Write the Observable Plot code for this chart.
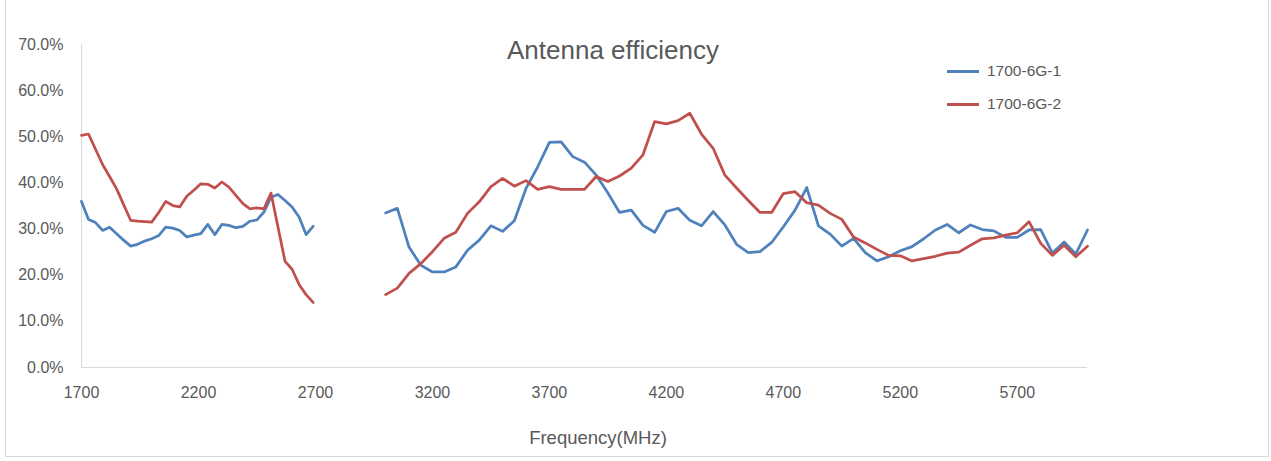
<!DOCTYPE html>
<html>
<head>
<meta charset="utf-8">
<script src="https://cdn.jsdelivr.net/npm/d3@7"></script>
<script src="https://cdn.jsdelivr.net/npm/@observablehq/plot@0.6"></script>
<style>
  body { margin: 0; background: #fff; font-family: "Liberation Sans", Arial, sans-serif; }
  #wrap { position: relative; width: 1271px; height: 461px; overflow: hidden; background: #fff; }
  #frame { position: absolute; left: 5px; top: -3px; width: 1264px; height: 460px; border: 1px solid #d9d9d9; box-sizing: border-box; pointer-events: none; }
  .title { position: absolute; left: 413px; width: 400px; text-align: center; top: 35px; font-size: 26px; color: #595959; }
  .xtitle { position: absolute; left: 448px; width: 300px; text-align: center; top: 427px; font-size: 18.5px; color: #595959; }
  .leg { position: absolute; left: 947px; font-size: 15.5px; color: #595959; display: flex; align-items: center; height: 20px; }
  .leg span.sw { display: inline-block; width: 32px; height: 3px; margin-right: 8px; }
  svg { display: block; }
</style>
</head>
<body>
<div id="wrap">
  <div id="chart"></div>
  <div class="title">Antenna efficiency</div>
  <div class="xtitle">Frequency(MHz)</div>
  <div id="legend"></div>
  <div id="frame"></div>
</div>
<script>
// ---- data ----
const seriesNames = ["1700-6G-1", "1700-6G-2"];
const seriesColors = ["#4F81BD", "#C0504D"];

const freqBand1 = [1700,1730,1760,1790,1820,1850,1880,1910,1940,1970,2000,2030,2060,2090,2120,2150,2180,2210,2240,2270,2300,2330,2360,2390,2420,2450,2480,2510,2540,2570,2600,2630,2660,2690];
const blueBand1 = [36.0,32.1,31.4,29.7,30.4,29.0,27.6,26.3,26.7,27.4,27.9,28.6,30.4,30.2,29.7,28.3,28.7,29.0,31.0,28.8,31.0,30.8,30.3,30.6,31.7,32.0,33.7,36.9,37.5,36.2,34.8,32.6,28.8,30.6];
const redBand1  = [50.3,50.6,47.3,44.0,41.4,38.7,35.3,31.9,31.7,31.6,31.5,33.6,36.0,35.1,34.8,37.1,38.4,39.8,39.7,38.9,40.2,39.1,37.3,35.5,34.4,34.6,34.4,37.8,30.4,23.0,21.3,18.0,15.8,14.1];

const freqBand2 = [3000,3050,3100,3150,3200,3250,3300,3350,3400,3450,3500,3550,3600,3650,3700,3750,3800,3850,3900,3950,4000,4050,4100,4150,4200,4250,4300,4350,4400,4450,4500,4550,4600,4650,4700,4750,4800,4850,4900,4950,5000,5050,5100,5150,5200,5250,5300,5350,5400,5450,5500,5550,5600,5650,5700,5750,5800,5850,5900,5950,6000];
const blueBand2 = [33.5,34.5,26.1,22.2,20.7,20.7,21.8,25.4,27.6,30.7,29.5,31.8,38.8,43.5,48.8,48.9,45.7,44.5,41.7,37.8,33.6,34.1,30.8,29.3,33.8,34.5,31.9,30.7,33.8,30.9,26.7,24.9,25.1,27.1,30.5,34.1,39.0,30.7,28.9,26.3,28.0,24.9,23.1,24.0,25.3,26.2,27.9,29.8,31.0,29.2,30.9,29.9,29.6,28.2,28.2,29.8,29.9,24.8,27.2,24.6,29.8];
const redBand2  = [15.8,17.2,20.4,22.5,25.1,28.0,29.3,33.4,35.9,39.2,41.0,39.3,40.5,38.6,39.2,38.6,38.6,38.6,41.4,40.3,41.5,43.2,46.1,53.3,52.8,53.5,55.1,50.6,47.5,41.7,38.9,36.2,33.6,33.6,37.7,38.1,35.7,35.2,33.4,32.1,28.3,27.0,25.6,24.3,24.2,23.1,23.6,24.1,24.8,25.0,26.5,27.9,28.1,28.7,29.2,31.6,26.9,24.3,26.5,24.0,26.3];

const xTicks = [1700,2200,2700,3200,3700,4200,4700,5200,5700];
const yTicks = [0,10,20,30,40,50,60,70];

// ---- build table ----
const rows = [];
function add(series, band, freqs, vals) {
  freqs.forEach((f, i) => rows.push({series, key: series + "|" + band, freq: f, value: vals[i]}));
}
add(seriesNames[0], "b1", freqBand1, blueBand1);
add(seriesNames[0], "b2", freqBand2, blueBand2);
add(seriesNames[1], "b1", freqBand1, redBand1);
add(seriesNames[1], "b2", freqBand2, redBand2);

const chart = Plot.plot({
  width: 1271,
  height: 461,
  marginLeft: 81,
  marginRight: 184,
  marginTop: 44,
  marginBottom: 94,
  style: {fontFamily: '"Liberation Sans", Arial, sans-serif', color: "#595959", background: "transparent"},
  x: {domain: [1700, 6000]},
  y: {domain: [0, 70]},
  color: {domain: seriesNames, range: seriesColors},
  marks: [
    Plot.ruleY([0], {stroke: "#d9d9d9", strokeWidth: 1}),
    Plot.ruleX([1700], {stroke: "#d9d9d9", strokeWidth: 1}),
    Plot.axisY({ticks: yTicks, tickSize: 0, tickPadding: 18, tickFormat: d => d.toFixed(1) + "%", label: null, fontSize: 16, fill: "#595959"}),
    Plot.axisX({ticks: xTicks, tickSize: 0, tickPadding: 19, tickFormat: d => String(d), label: null, fontSize: 16, fill: "#595959"}),
    Plot.line(rows, {x: "freq", y: "value", z: "key", stroke: "series", strokeWidth: 2.75, strokeLinejoin: "round", strokeLinecap: "round"})
  ]
});
document.getElementById("chart").appendChild(chart);

// legend
const leg = document.getElementById("legend");
seriesNames.forEach((name, i) => {
  const d = document.createElement("div");
  d.className = "leg";
  d.style.top = (61 + i * 33) + "px";
  d.innerHTML = `<span class="sw" style="background:${seriesColors[i]}"></span><span>${name}</span>`;
  leg.appendChild(d);
});
</script>
</body>
</html>
